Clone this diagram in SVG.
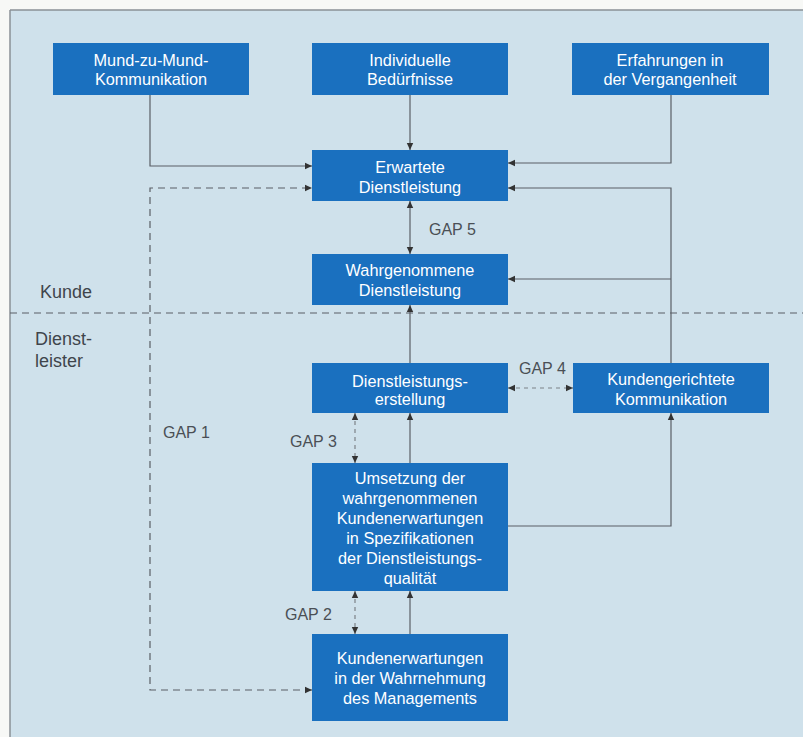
<svg xmlns="http://www.w3.org/2000/svg" width="803" height="737" viewBox="0 0 803 737">
  <defs>
    <marker id="arr" markerUnits="userSpaceOnUse" markerWidth="8" markerHeight="8" refX="7" refY="4" orient="auto-start-reverse">
      <path d="M0,0.8 L7,4 L0,7.2 Z" fill="#333"/>
    </marker>
    <style>
      .box { fill: #1a70bf; }
      .bt { font-family: "Liberation Sans", Arial, sans-serif; font-size: 16.3px; fill: #ffffff; text-anchor: middle; }
      .lbl { font-family: "Liberation Sans", Arial, sans-serif; font-size: 16px; fill: #4a4f55; }
      .side { font-family: "Liberation Sans", Arial, sans-serif; font-size: 18px; fill: #3f454c; }
      .ln { fill: none; stroke: #5a5f66; stroke-width: 1.2; }
      .dash { fill: none; stroke: #5a5f66; stroke-width: 1.2; stroke-dasharray: 7 5; }
      .gapd { fill: none; stroke: #7c8288; stroke-width: 1.2; stroke-dasharray: 4 4; }
    </style>
  </defs>

  <!-- background and frame -->
  <rect x="0" y="0" width="803" height="737" fill="#f7f8f6"/>
  <rect x="10" y="10" width="800" height="740" fill="#cfe1eb"/>
  <line x1="10" y1="10" x2="803" y2="10" stroke="#8a9096" stroke-width="1.5"/>
  <line x1="10" y1="10" x2="10" y2="737" stroke="#8a9096" stroke-width="1.5"/>

  <!-- customer / provider divider -->
  <line x1="10" y1="313" x2="803" y2="313" class="dash"/>
  <text x="40" y="298" class="side">Kunde</text>
  <text x="35" y="345" class="side">Dienst-</text>
  <text x="35" y="367" class="side">leister</text>

  <!-- connectors -->
  <g id="connectors">
    <polyline class="ln" points="150,95 150,166 312,166" marker-end="url(#arr)"/>
    <line class="ln" x1="410" y1="95" x2="410" y2="150" marker-end="url(#arr)"/>
    <polyline class="ln" points="671,95 671,163 508,163" marker-end="url(#arr)"/>
    <polyline class="ln" points="671,363 671,188 508,188" marker-end="url(#arr)"/>
    <line class="ln" x1="671" y1="279" x2="508" y2="279" marker-end="url(#arr)"/>
    <line class="ln" x1="410" y1="201" x2="410" y2="254" marker-start="url(#arr)" marker-end="url(#arr)"/>
    <line class="ln" x1="410" y1="363" x2="410" y2="305" marker-end="url(#arr)"/>
    <line class="ln" x1="410" y1="463" x2="410" y2="413" marker-end="url(#arr)"/>
    <line class="ln" x1="410" y1="634" x2="410" y2="591" marker-end="url(#arr)"/>
    <polyline class="ln" points="508,526 671,526 671,413" marker-end="url(#arr)"/>
    <polyline class="dash" points="312,690 150,690 150,188 312,188" marker-start="url(#arr)" marker-end="url(#arr)"/>
    <line class="gapd" x1="508" y1="388" x2="573" y2="388" marker-start="url(#arr)" marker-end="url(#arr)"/>
    <line class="gapd" x1="355" y1="413" x2="355" y2="463" marker-start="url(#arr)" marker-end="url(#arr)"/>
    <line class="gapd" x1="355" y1="591" x2="355" y2="634" marker-start="url(#arr)" marker-end="url(#arr)"/>
  </g>

  <!-- gap labels -->
  <text x="429" y="235" class="lbl">GAP 5</text>
  <text x="519" y="374" class="lbl">GAP 4</text>
  <text x="163" y="438" class="lbl">GAP 1</text>
  <text x="290" y="447" class="lbl">GAP 3</text>
  <text x="285" y="620" class="lbl">GAP 2</text>

  <!-- nodes -->
  <g id="mund">
    <rect class="box" x="53" y="43" width="196" height="52"/>
    <text class="bt" x="151" y="66">Mund-zu-Mund-</text>
    <text class="bt" x="151" y="85">Kommunikation</text>
  </g>
  <g id="beduerfnisse">
    <rect class="box" x="312" y="43" width="196" height="52"/>
    <text class="bt" x="410" y="66">Individuelle</text>
    <text class="bt" x="410" y="85">Bedürfnisse</text>
  </g>
  <g id="erfahrungen">
    <rect class="box" x="572" y="43" width="197" height="52"/>
    <text class="bt" x="670" y="66">Erfahrungen in</text>
    <text class="bt" x="670" y="85">der Vergangenheit</text>
  </g>
  <g id="erwartete">
    <rect class="box" x="312" y="150" width="196" height="51"/>
    <text class="bt" x="410" y="173">Erwartete</text>
    <text class="bt" x="410" y="193">Dienstleistung</text>
  </g>
  <g id="wahrgenommene">
    <rect class="box" x="312" y="254" width="196" height="51"/>
    <text class="bt" x="410" y="276">Wahrgenommene</text>
    <text class="bt" x="410" y="296">Dienstleistung</text>
  </g>
  <g id="erstellung">
    <rect class="box" x="312" y="363" width="196" height="50"/>
    <text class="bt" x="410" y="387">Dienstleistungs-</text>
    <text class="bt" x="410" y="405">erstellung</text>
  </g>
  <g id="kommunikation">
    <rect class="box" x="573" y="363" width="196" height="50"/>
    <text class="bt" x="671" y="385">Kundengerichtete</text>
    <text class="bt" x="671" y="405">Kommunikation</text>
  </g>
  <g id="umsetzung">
    <rect class="box" x="312" y="463" width="196" height="128"/>
    <text class="bt" x="410" y="484">Umsetzung der</text>
    <text class="bt" x="410" y="504">wahrgenommenen</text>
    <text class="bt" x="410" y="524">Kundenerwartungen</text>
    <text class="bt" x="410" y="544">in Spezifikationen</text>
    <text class="bt" x="410" y="564">der Dienstleistungs-</text>
    <text class="bt" x="410" y="584">qualität</text>
  </g>
  <g id="management">
    <rect class="box" x="312" y="634" width="196" height="87"/>
    <text class="bt" x="410" y="664">Kundenerwartungen</text>
    <text class="bt" x="410" y="684">in der Wahrnehmung</text>
    <text class="bt" x="410" y="704">des Managements</text>
  </g>
</svg>
